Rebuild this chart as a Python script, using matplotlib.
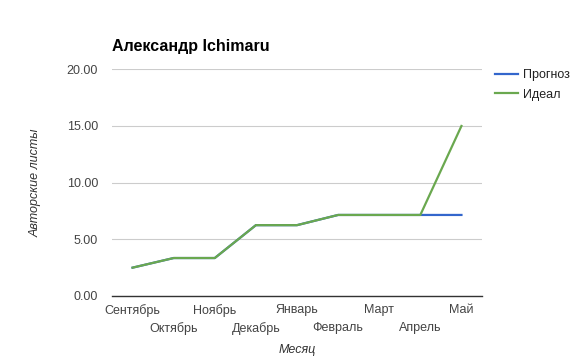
import matplotlib.pyplot as plt

months = ["Сентябрь", "Октябрь", "Ноябрь", "Декабрь", "Январь",
          "Февраль", "Март", "Апрель", "Май"]
forecast = [2.5, 3.35, 3.35, 6.25, 6.25, 7.15, 7.15, 7.15, 7.15]
ideal = [2.5, 3.35, 3.35, 6.25, 6.25, 7.15, 7.15, 7.15, 15.0]
y_ticks = [0, 5, 10, 15, 20]

plt.rcParams["font.family"] = ["Liberation Sans", "DejaVu Sans"]

fig = plt.figure(figsize=(5.75, 3.57), dpi=100)
ax = fig.add_axes([112 / 575, 1 - 296 / 357, 370 / 575, 226.7 / 357])

x = list(range(len(months)))
ax.plot(x, forecast, color="#3366cc", lw=1.6, label="Прогноз")
ax.plot(x, ideal, color="#6aa84f", lw=1.6, label="Идеал")

ax.set_xlim(-0.5, len(months) - 0.5)
ax.set_ylim(0, 20)
ax.set_yticks(y_ticks)
ax.set_yticklabels([f"{v:.2f}" for v in y_ticks])
ax.yaxis.grid(True, color="#cccccc", lw=0.8)
ax.set_axisbelow(True)
for s in ["top", "right", "left"]:
    ax.spines[s].set_visible(False)
ax.spines["bottom"].set_color("#333333")
ax.spines["bottom"].set_linewidth(1.0)
ax.tick_params(axis="y", length=0, pad=10, labelsize=9, labelcolor="#444444")

# staggered month labels: even ones on the first row, odd ones below
ax.set_xticks(x[::2])
ax.set_xticklabels(months[::2])
ax.set_xticks(x[1::2], minor=True)
ax.set_xticklabels(months[1::2], minor=True)
ax.tick_params(axis="x", which="major", length=0, pad=6, labelsize=9, labelcolor="#444444")
ax.tick_params(axis="x", which="minor", length=0, pad=19, labelsize=9, labelcolor="#444444")

fig.text(297 / 575, 1 - 350 / 357, "Месяц", style="italic", fontsize=9,
         color="#333333", ha="center", va="center")
ax.set_ylabel("Авторские листы", style="italic", fontsize=9, color="#333333", labelpad=18)

fig.text(112 / 575, 1 - 51 / 357, "Александр Ichimaru", fontsize=11.5,
         fontweight="bold", color="#000000")

fig.legend(loc="upper left", bbox_to_anchor=(484 / 575, 1 - 58 / 357),
           frameon=False, fontsize=9, handlelength=1.8, labelspacing=0.6,
           handletextpad=0.45, labelcolor="#222222")

fig.savefig("out.png", dpi=100)
